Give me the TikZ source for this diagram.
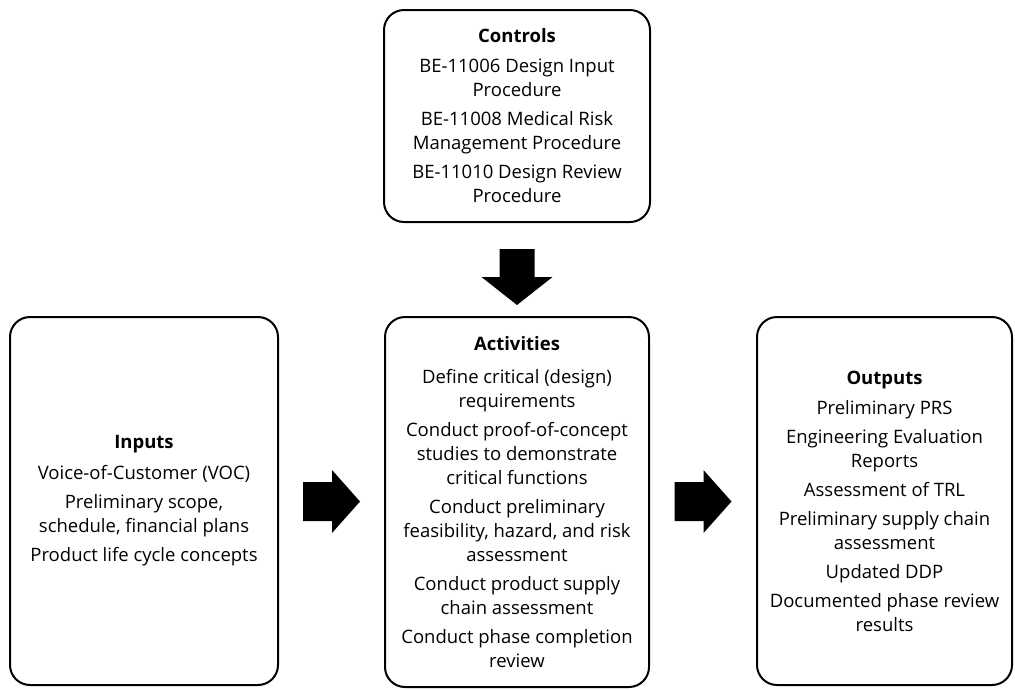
\documentclass[tikz,border=0pt]{standalone}
\usepackage{fontspec}
\setmainfont{Open Sans}
\usetikzlibrary{calc}

\tikzset{
  stagebox/.style={draw=black, line width=2pt, rounded corners=20pt,
    fill=white, align=center, inner sep=0pt,
    font=\fontsize{18.5}{24}\selectfont},
  blockarrow/.style={fill=black}
}

\begin{document}
\begin{tikzpicture}[x=1pt,y=-1pt]
  \useasboundingbox (0,0) rectangle (1015,689);

  % the four stage boxes
  \node[stagebox, minimum width=266pt, minimum height=212pt] (controls) at (517,116)
    {\textbf{Controls}\\[6pt]
     BE-11006 Design Input\\ Procedure\\[5pt]
     BE-11008 Medical Risk\\ Management Procedure\\[5pt]
     BE-11010 Design Review\\ Procedure};

  \node[stagebox, minimum width=264pt, minimum height=370pt] (activities) at (517,502)
    {\textbf{Activities}\\[9pt]
     Define critical (design)\\ requirements\\[5pt]
     Conduct proof-of-concept\\ studies to demonstrate\\ critical functions\\[5pt]
     Conduct preliminary\\ feasibility, hazard, and risk\\ assessment\\[5pt]
     Conduct product supply\\ chain assessment\\[5pt]
     Conduct phase completion\\ review};

  \node[stagebox, minimum width=268pt, minimum height=368pt] (inputs) at (144,501)
    {\textbf{Inputs}\\[7pt]
     Voice-of-Customer (VOC)\\[5pt]
     Preliminary scope,\\ schedule, financial plans\\[5pt]
     Product life cycle concepts};

  \node[stagebox, minimum width=255pt, minimum height=368pt] (outputs) at (884.5,501)
    {\textbf{Outputs}\\[6pt]
     Preliminary PRS\\[5pt]
     Engineering Evaluation\\ Reports\\[5pt]
     Assessment of TRL\\[5pt]
     Preliminary supply chain\\ assessment\\[5pt]
     Updated DDP\\[5pt]
     Documented phase review\\ results};

  % block arrows between the boxes
  \path (inputs.east) -- (activities.west) coordinate[midway] (ia);
  \path (activities.east) -- (outputs.west) coordinate[midway] (ao);
  \coordinate (ca) at ($(controls.south)+(0,26)$);

  \fill[blockarrow] ($(ia)+(-28.5,-19.5)$) -- ($(ia)+(0.5,-19.5)$) -- ($(ia)+(0.5,-31.5)$)
    -- ($(ia)+(28.5,0)$) -- ($(ia)+(0.5,31.5)$) -- ($(ia)+(0.5,19.5)$)
    -- ($(ia)+(-28.5,19.5)$) -- cycle;

  \fill[blockarrow] ($(ao)+(-28.5,-19.5)$) -- ($(ao)+(0.5,-19.5)$) -- ($(ao)+(0.5,-31.5)$)
    -- ($(ao)+(28.5,0)$) -- ($(ao)+(0.5,31.5)$) -- ($(ao)+(0.5,19.5)$)
    -- ($(ao)+(-28.5,19.5)$) -- cycle;

  \fill[blockarrow] ($(ca)+(-17.5,0)$) -- ($(ca)+(17.5,0)$) -- ($(ca)+(17.5,28)$)
    -- ($(ca)+(35.5,28)$) -- ($(ca)+(0,56)$) -- ($(ca)+(-35.5,28)$)
    -- ($(ca)+(-17.5,28)$) -- cycle;
\end{tikzpicture}
\end{document}
